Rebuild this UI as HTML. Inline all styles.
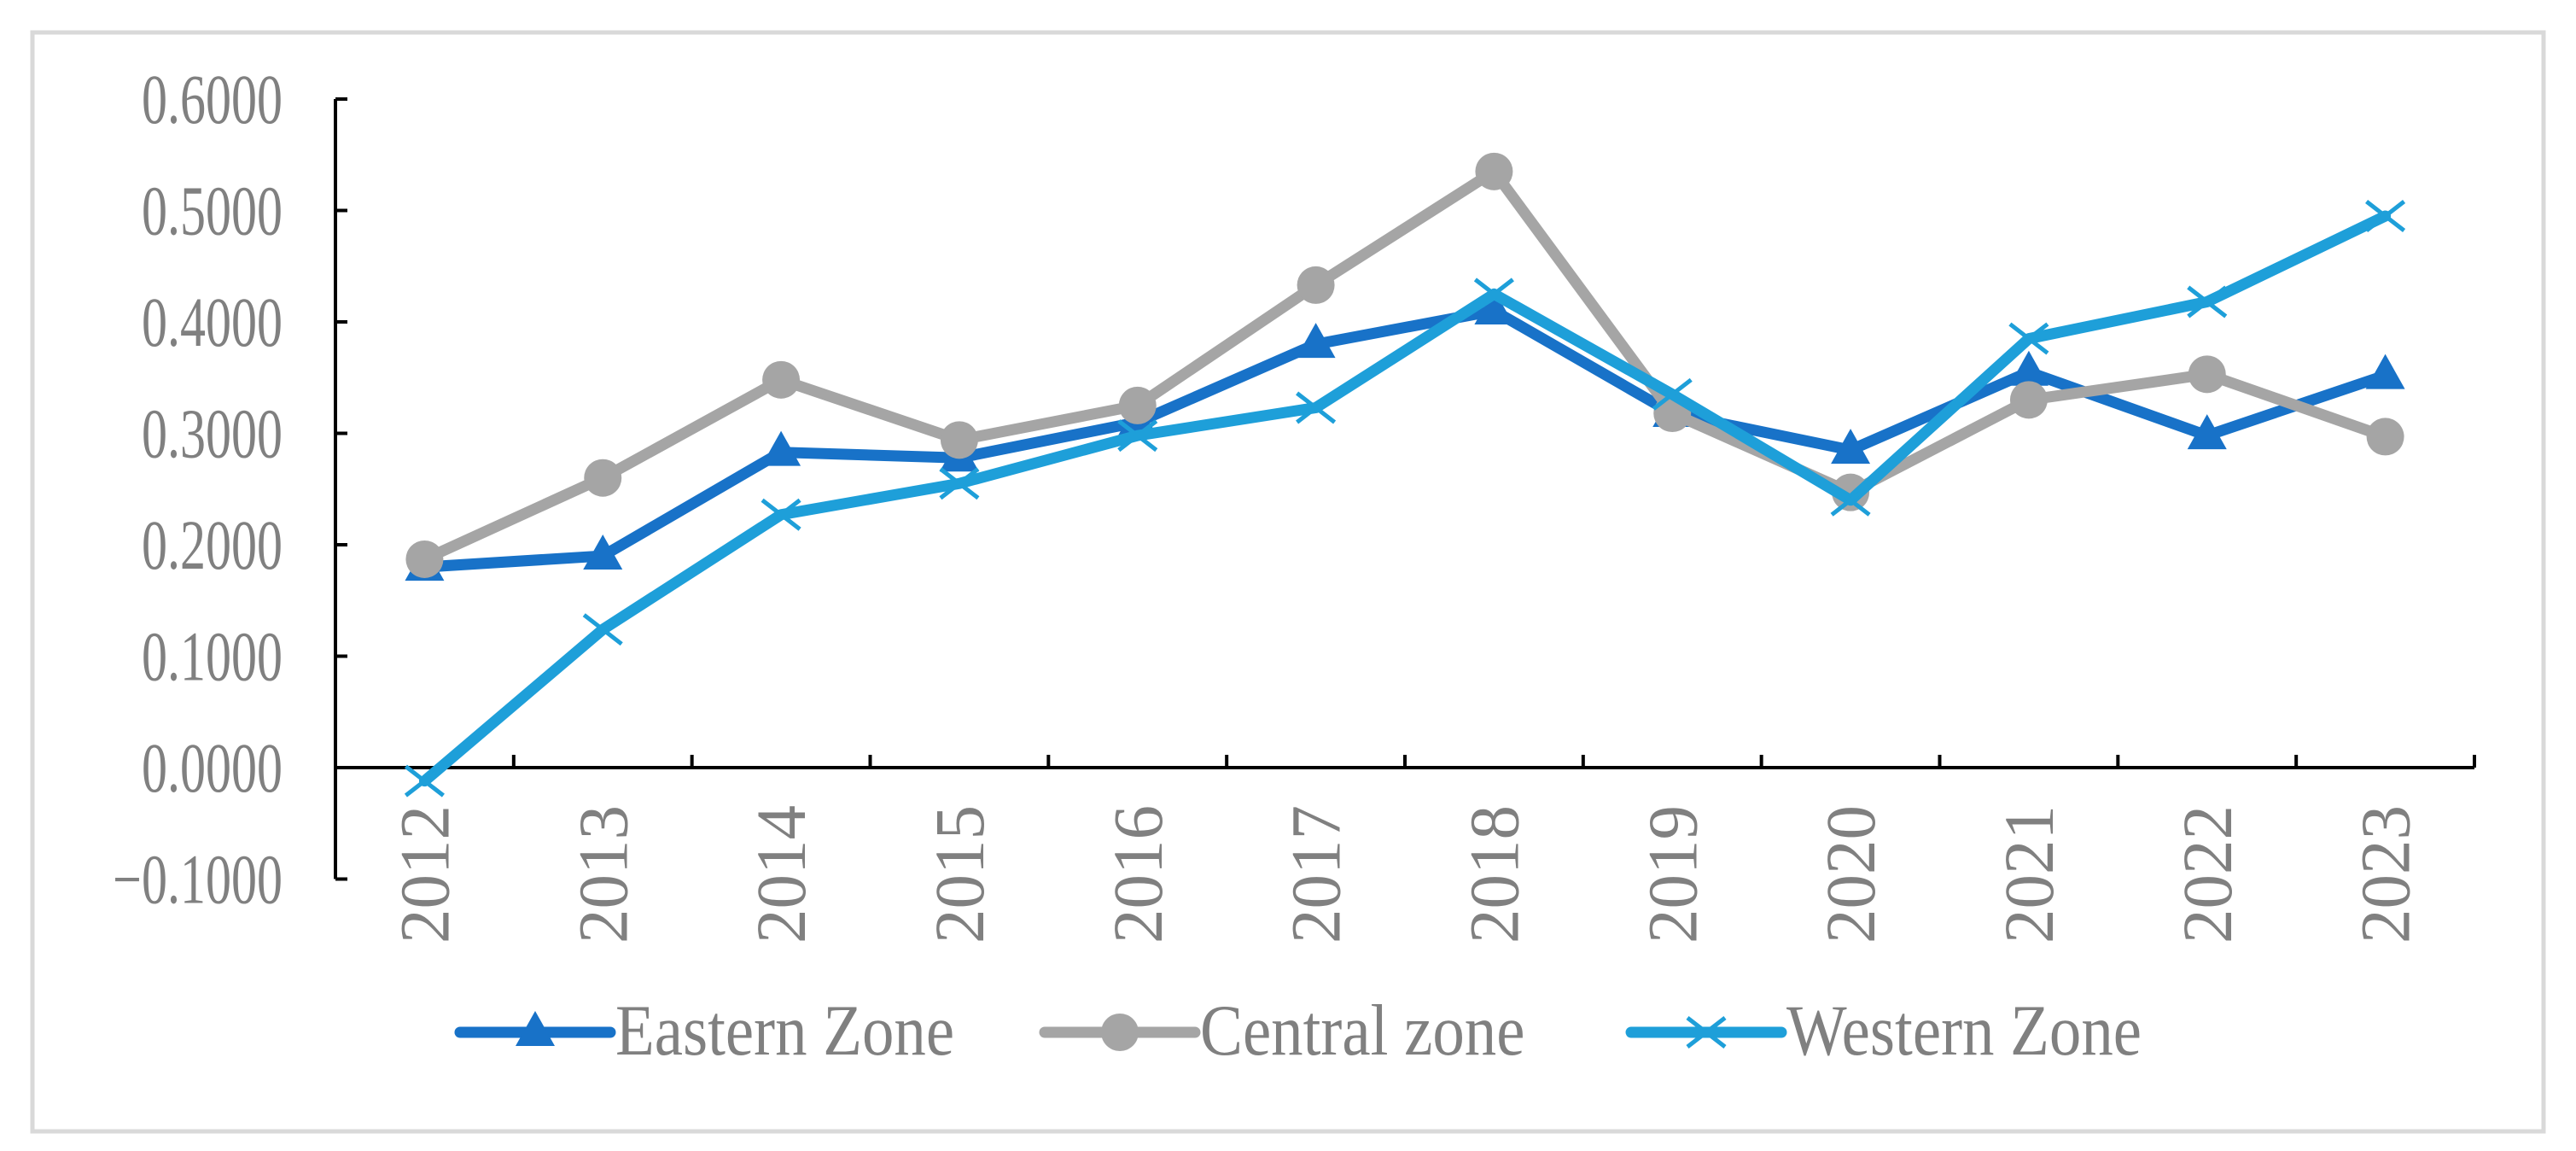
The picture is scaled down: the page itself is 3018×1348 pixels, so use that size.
<!DOCTYPE html>
<html><head><meta charset="utf-8"><style>
html,body{margin:0;padding:0;background:#fff;}
svg{display:block;}
text{font-family:"Liberation Serif",serif;fill:#808080;}
</style></head><body>
<svg id="chart" width="3018" height="1348" viewBox="0 0 3018 1348" xmlns="http://www.w3.org/2000/svg">
<rect x="38" y="38" width="2942" height="1287" fill="#fff" stroke="#d9d9d9" stroke-width="5"/>
<g id="axes"></g><g id="series"></g><g id="legend"></g>
</svg>
<script>
const categories=["2012","2013","2014","2015","2016","2017","2018","2019","2020","2021","2022","2023"];
const eastern=[0.180,0.190,0.283,0.278,0.310,0.380,0.410,0.318,0.285,0.355,0.298,0.352];
const central=[0.187,0.260,0.348,0.294,0.325,0.433,0.535,0.318,0.247,0.330,0.353,0.297];
const western=[-0.012,0.124,0.227,0.255,0.298,0.323,0.425,0.335,0.240,0.385,0.418,0.495];
const yTicks=[-0.1,0,0.1,0.2,0.3,0.4,0.5,0.6];
const yTickLabels=["\u22120.1000","0.0000","0.1000","0.2000","0.3000","0.4000","0.5000","0.6000"];
const seriesNames=["Eastern Zone","Central zone","Western Zone"];

const NS="http://www.w3.org/2000/svg";
const X0=393,X1=2899,Y0=899,PER=130.5;
const bw=(X1-X0)/categories.length;
const xs=i=>X0+bw*(i+0.5);
const ys=v=>Y0-v/0.1*PER;
function mk(t,a,p){const e=document.createElementNS(NS,t);for(const k in a)e.setAttribute(k,a[k]);p.appendChild(e);return e;}
const axes=document.getElementById('axes');
let e=mk('line',{x1:X0,x2:X0,y1:ys(0.6),y2:ys(-0.1),stroke:'#000','stroke-width':4},axes);


yTicks.forEach((v,i)=>{
  let t=mk('line',{x1:X0,x2:X0+14,y1:ys(v),y2:ys(v),stroke:'#000','stroke-width':4},axes);
  
  
  let l=mk('text',{x:0,y:0,'text-anchor':'end','font-size':60,transform:`translate(331,${ys(v)+28}) scale(1,1.38)`},axes);
  l.textContent=yTickLabels[i];
  
  
});
e=mk('line',{x1:X0,x2:X1,y1:Y0,y2:Y0,stroke:'#000','stroke-width':4},axes);


for(let i=1;i<=categories.length;i++){
  let t=mk('line',{x1:X0+bw*i,x2:X0+bw*i,y1:Y0,y2:Y0-15,stroke:'#000','stroke-width':4},axes);
  
  
}
categories.forEach((c,i)=>{
  let l=mk('text',{x:0,y:0,'text-anchor':'end','font-size':60,transform:`translate(${xs(i)+28},943) rotate(-90) scale(1.35,1.38)`},axes);
  l.textContent=c;
  
  
});
const colors=['#1872c8','#a5a5a5','#1e9fd9'];
function marker(k,x,y,g){
  let m;
  if(k===0) m=mk('polygon',{points:`${x},${y-25} ${x-23},${y+16} ${x+23},${y+16}`,fill:colors[0]},g);
  else if(k===1) m=mk('circle',{cx:x,cy:y,r:22,fill:colors[1]},g);
  else m=mk('path',{d:`M${x-22},${y-17}L${x+22},${y+17}M${x-22},${y+17}L${x+22},${y-17}`,stroke:colors[2],'stroke-width':5,fill:'none'},g);
  return m;
}
const sg=document.getElementById('series');
[eastern,central,western].forEach((d,k)=>{
  let p=mk('polyline',{points:d.map((v,i)=>xs(i)+','+ys(v)).join(' '),fill:'none',stroke:colors[k],'stroke-width':13,'stroke-linejoin':'round','stroke-linecap':'round'},sg);
  
  
  d.forEach((v,i)=>{
    let m=marker(k,xs(i),ys(v),sg);
    
    
  });
});
const lg=document.getElementById('legend');
const lx=[539,1224,1911];
seriesNames.forEach((n,k)=>{
  const g=mk('g',{},lg);
  
  
  mk('line',{x1:lx[k],x2:lx[k]+176,y1:1209,y2:1209,stroke:colors[k],'stroke-width':13,'stroke-linecap':'round'},g);
  marker(k,lx[k]+88,1209,g);
  let t=mk('text',{x:0,y:0,'font-size':64,transform:`translate(${lx[k]+182},1235) scale(1.17,1.33)`},g);
  t.textContent=n;
});
</script>
</body></html>
